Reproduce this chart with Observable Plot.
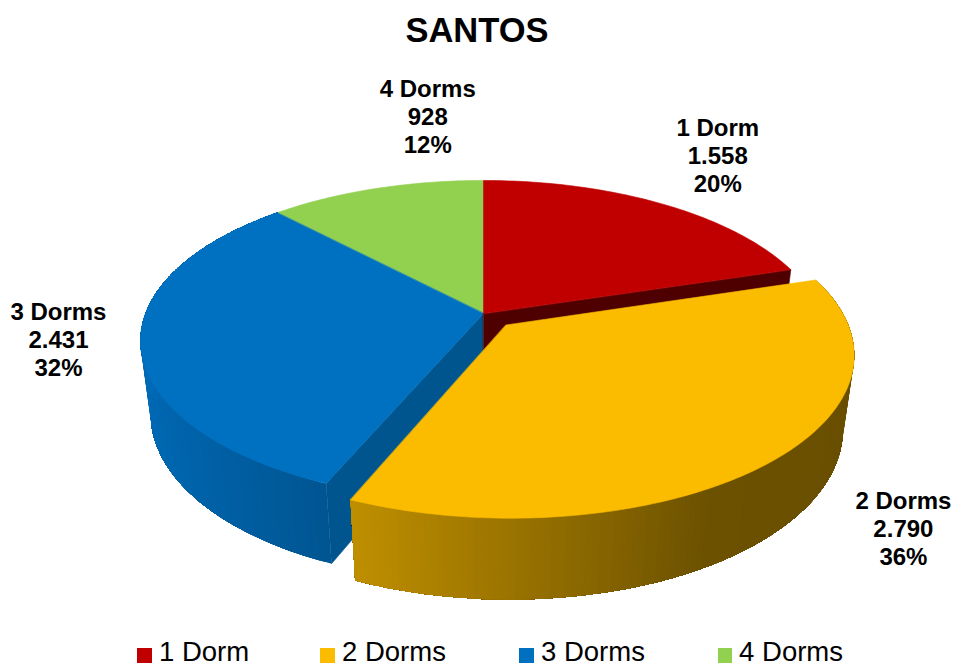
<!DOCTYPE html>
<html lang="pt">
<head>
<meta charset="utf-8">
<script src="https://cdn.jsdelivr.net/npm/d3@7"></script>
<script src="https://cdn.jsdelivr.net/npm/@observablehq/plot@0.6"></script>
<style>
  html, body { margin: 0; padding: 0; background: #fff; }
  #page { position: relative; width: 954px; height: 667px;
          font-family: "Liberation Sans", Arial, sans-serif; color: #000; }
  #title { height: 58px; line-height: 61px; text-align: center; font-size: 34.5px; font-weight: bold; }
  #chart svg { display: block; }
  #legend { position: absolute; top: 638px; left: 137px; display: flex; }
  #legend .item { display: flex; align-items: center; font-size: 27.5px; line-height: 27px; white-space: pre; }
  #legend .swatch { width: 15px; height: 15px; margin-right: 7px; margin-top: 7px; }
</style>
</head>
<body>
<div id="page">
  <div id="title">SANTOS</div>
  <div id="chart"></div>
  <div id="legend"></div>
</div>
<script>
// Units sold per bedroom count
const categories = ["1 Dorm", "2 Dorms", "3 Dorms", "4 Dorms"];
const units = [1558, 2790, 2431, 928];
const topColors = ["#C00000", "#FBBC00", "#0070C0", "#92D050"];
const cutColors = ["#4E0000", "#6B5000", "#00558E", "#5F8A30"];
const exploded = [0, 0.098, 0, 0];
const labelNudge = [[58, -48], [131, 67], [-82, -3], [52, -73]];
const legendWidths = [183, 199, 199, 125];

// Perspective view of a disc lying flat: far side shrinks, lower face sits slightly deeper
const radiusX = 338, radiusY = 155.8, thickness = 75, tilt = 0.171, depthFade = 0.03;
function project(X, Y, z) {
  const w = 1 + tilt * Y + depthFade * z;
  return {x: radiusX * X / w, y: (radiusY * Y - thickness * z) / w};
}

const total = d3.sum(units);
const thousands = (v) => String(v).replace(/\B(?=(\d{3})+$)/g, ".");

// Clockwise from twelve o'clock
let running = 0;
const slices = units.map((v, i) => {
  const a0 = running / total * 2 * Math.PI;
  running += v;
  const a1 = running / total * 2 * Math.PI;
  const mid = (a0 + a1) / 2;
  return {i, a0, a1, mid, ox: exploded[i] * Math.sin(mid), oy: exploded[i] * Math.cos(mid)};
});

const rimPoint = (s, a, z) => project(s.ox + Math.sin(a), s.oy + Math.cos(a), z);
const apexPoint = (s, z) => project(s.ox, s.oy, z);
const arcAngles = (s) => {
  const n = Math.ceil((s.a1 - s.a0) / (Math.PI / 180));
  return d3.range(n + 1).map((k) => s.a0 + (s.a1 - s.a0) * k / n);
};

// Wall light falls off from the left of the disc towards the right
const wallLight = d3.scaleLinear().domain([-1, -0.39, 0.5, 1]).range([0.95, 0.76, 0.43, 0.42]).clamp(true);
function shaded(color, f) {
  const c = d3.rgb(color);
  return d3.rgb(c.r * f, c.g * f, c.b * f).formatHex();
}

const polygons = [];
let polyId = 0;
function addPolygon(points, color, edge) {
  const id = polyId++;
  for (const p of points) polygons.push({x: p.x, y: p.y, id, color, edge});
}
// Flat faces carry a hairline of their own colour to close the seams where faces meet
function addTop(s) {
  const c = topColors[s.i];
  addPolygon([apexPoint(s, 0), ...arcAngles(s).map((a) => rimPoint(s, a, 0))], c, c);
}
function addCut(s, a) {
  const c = cutColors[s.i];
  addPolygon([apexPoint(s, 0), rimPoint(s, a, 0), rimPoint(s, a, 1), apexPoint(s, 1)], c, c);
}
// Each wall band runs on to the slice's far end and the next band paints over it,
// so no hairline gaps show between the bands.
function addWall(s) {
  const angles = arcAngles(s);
  for (let k = 0; k < angles.length - 1; ++k) {
    const rest = angles.slice(k);
    const f = wallLight(Math.sin((angles[k] + angles[k + 1]) / 2));
    addPolygon([
      ...rest.map((a) => rimPoint(s, a, 0)),
      ...rest.slice().reverse().map((a) => rimPoint(s, a, 1))
    ], shaded(topColors[s.i], f), "none");
  }
}

// Painter's order, back to front
const [one, two, three, four] = slices;
addTop(four);
addWall(three);
addCut(three, three.a0);
addTop(three);
addCut(one, one.a1);
addTop(one);
addWall(two);
addTop(two);

const labelMarks = slices.map((s) => {
  const rim = rimPoint(s, s.mid, 0);
  const pct = Math.round(units[s.i] / total * 100);
  return Plot.text([{x: rim.x, y: rim.y, t: `${categories[s.i]}\n${thousands(units[s.i])}\n${pct}%`}], {
    x: "x", y: "y", text: "t",
    dx: labelNudge[s.i][0], dy: labelNudge[s.i][1],
    fontSize: 24, fontWeight: "bold", fontFamily: "Liberation Sans, Arial, sans-serif",
    fill: "#000", lineHeight: 1.167, lineAnchor: "middle", textAnchor: "middle"
  });
});

const chart = Plot.plot({
  width: 954,
  height: 572,
  margin: 0,
  x: {domain: [-483, 471], range: [0, 954], axis: null},
  y: {domain: [-317, 255], range: [572, 0], axis: null},
  color: {type: "identity"},
  marks: [
    Plot.line(polygons, {
      x: "x", y: "y", z: "id",
      fill: "color", stroke: "edge", strokeWidth: 0.6,
      curve: "linear-closed"
    }),
    ...labelMarks
  ]
});
document.getElementById("chart").append(chart);

const legend = document.getElementById("legend");
categories.forEach((c, i) => {
  const item = document.createElement("div");
  item.className = "item";
  item.style.width = legendWidths[i] + "px";
  const sw = document.createElement("span");
  sw.className = "swatch";
  sw.style.background = topColors[i];
  item.append(sw, document.createTextNode(c));
  legend.append(item);
});
</script>
</body>
</html>
